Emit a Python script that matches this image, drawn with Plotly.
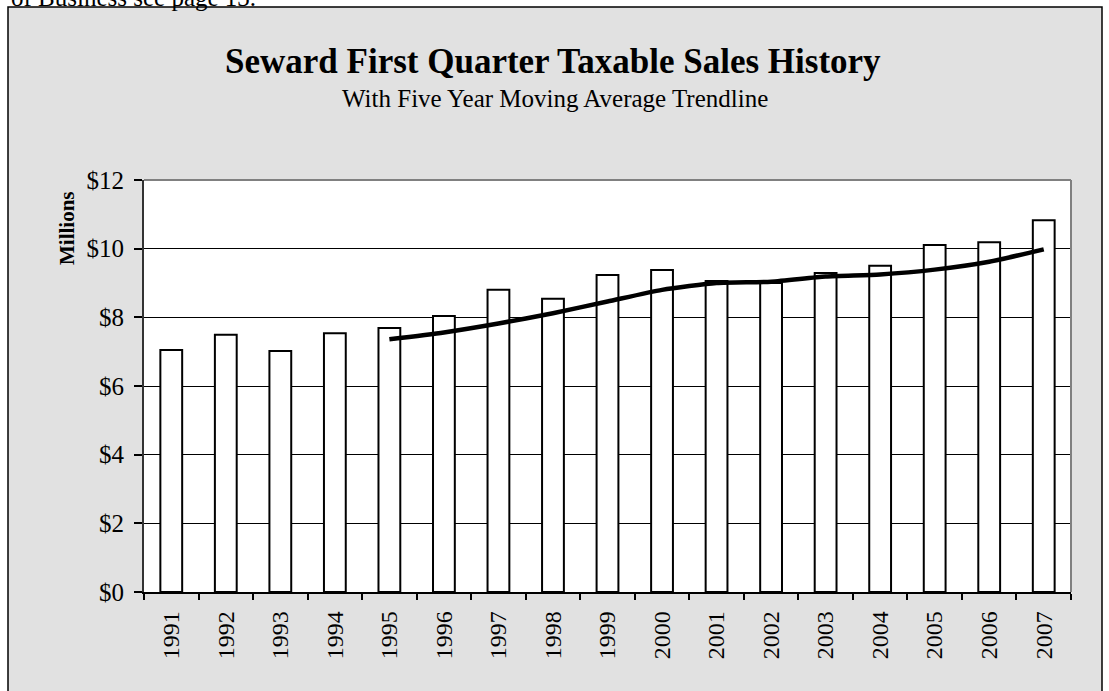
import plotly.graph_objects as go

years = [str(y) for y in range(1991, 2008)]
sales = [7.05, 7.49, 7.02, 7.54, 7.69, 8.04, 8.80, 8.54, 9.23, 9.38,
         9.06, 9.00, 9.29, 9.50, 10.11, 10.19, 10.83]
ma_years = [str(y) for y in range(1995, 2008)]
ma_values = [7.36, 7.56, 7.82, 8.12, 8.46, 8.80, 9.00, 9.04, 9.19, 9.25,
             9.39, 9.62, 9.98]
y_ticks = [0, 2, 4, 6, 8, 10, 12]
y_tick_labels = ["$0", "$2", "$4", "$6", "$8", "$10", "$12"]

W, H = 1109, 691
L, R, T, B = 144, 1071, 180, 592

def px(x):
    return (x - L) / (R - L)

def py(y):
    return (B - y) / (B - T)

FONT = "Liberation Serif, Times New Roman, serif"

fig = go.Figure()
fig.add_trace(go.Bar(
    x=years, y=sales,
    marker=dict(color="white", line=dict(color="black", width=2)),
    width=0.4, showlegend=False, hoverinfo="x+y"))
fig.add_trace(go.Scatter(
    x=ma_years, y=ma_values, mode="lines",
    line=dict(color="black", width=4.5, shape="spline", smoothing=0.6),
    showlegend=False))

shapes = [
    dict(type="rect", xref="paper", yref="paper", layer="below",
         x0=px(8), x1=px(1102), y0=py(720), y1=py(7),
         fillcolor="#e1e1e1", line=dict(color="black", width=1.5)),
    dict(type="rect", xref="paper", yref="paper", layer="below",
         x0=0, x1=1, y0=0, y1=1, fillcolor="white", line=dict(width=0)),
    dict(type="line", xref="paper", yref="paper", layer="above",
         x0=0, x1=1, y0=1, y1=1, line=dict(color="#808080", width=2)),
    dict(type="line", xref="paper", yref="paper", layer="above",
         x0=1, x1=1, y0=0, y1=1, line=dict(color="#808080", width=2)),
]

annotations = [
    dict(text="of Business see page 13.", xref="paper", yref="paper",
         x=px(9), y=py(13), xanchor="left", yanchor="bottom", showarrow=False,
         font=dict(family=FONT, size=25, color="black")),
    dict(text="<b>Seward First Quarter Taxable Sales History</b>", xref="paper", yref="paper",
         x=px(553), y=py(61), xanchor="center", yanchor="middle", showarrow=False,
         font=dict(family=FONT, size=35, color="black")),
    dict(text="With Five Year Moving Average Trendline", xref="paper", yref="paper",
         x=px(555), y=py(99), xanchor="center", yanchor="middle", showarrow=False,
         font=dict(family=FONT, size=25, color="black")),
    dict(text="<b>Millions</b>", xref="paper", yref="paper", textangle=-90,
         x=px(67), y=py(228), xanchor="center", yanchor="middle", showarrow=False,
         font=dict(family=FONT, size=21, color="black")),
]

fig.update_layout(
    width=W, height=H,
    margin=dict(l=L, r=W - R, t=T, b=H - B, pad=0),
    paper_bgcolor="white", plot_bgcolor="white",
    shapes=shapes, annotations=annotations,
    bargap=0.6,
    font=dict(family=FONT, size=23, color="black"),
    xaxis=dict(type="category", tickangle=-90, ticks="outside", ticklen=6,
               tickson="boundaries", tickcolor="black", tickwidth=1.5,
               ticklabelstandoff=8,
               showline=True, linecolor="black", linewidth=1.5,
               showgrid=False, tickfont=dict(family=FONT, size=24, color="black")),
    yaxis=dict(range=[0, 12], tickmode="array", tickvals=y_ticks, ticktext=y_tick_labels,
               ticks="outside", ticklen=8, tickcolor="black", tickwidth=1.5,
               ticklabelstandoff=5,
               showline=True, linecolor="#333333", linewidth=2,
               showgrid=True, gridcolor="black", gridwidth=1, zeroline=False,
               tickfont=dict(family=FONT, size=25, color="black")),
)

fig.write_html("out.html", config={"displayModeBar": False},
               post_script="document.body.style.margin='0';")
